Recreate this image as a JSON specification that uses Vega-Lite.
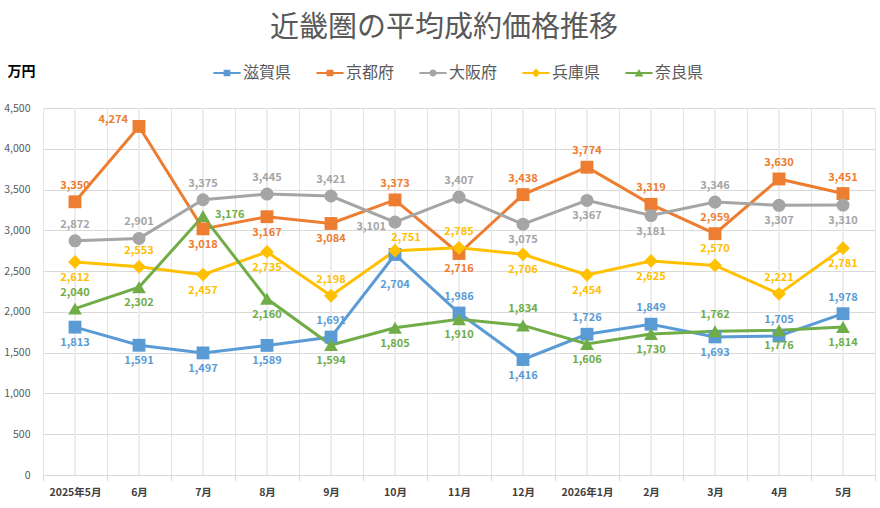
{
  "$schema": "https://vega.github.io/schema/vega-lite/v6.json",
  "width": 832,
  "height": 367,
  "autosize": "none",
  "padding": {"left": 43, "top": 108, "right": 5, "bottom": 33},
  "background": "white",
  "title": {
    "text": "近畿圏の平均成約価格推移",
    "fontSize": 29,
    "fontWeight": "normal",
    "color": "#595959",
    "font": "Noto Sans CJK JP",
    "anchor": "middle",
    "frame": "group",
    "dx": -15,
    "offset": 21
  },
  "data": {
    "values": [
      {"月": "2025年5月", "県": "滋賀県", "価格": 1813},
      {"月": "6月", "県": "滋賀県", "価格": 1591},
      {"月": "7月", "県": "滋賀県", "価格": 1497},
      {"月": "8月", "県": "滋賀県", "価格": 1589},
      {"月": "9月", "県": "滋賀県", "価格": 1691},
      {"月": "10月", "県": "滋賀県", "価格": 2704},
      {"月": "11月", "県": "滋賀県", "価格": 1986},
      {"月": "12月", "県": "滋賀県", "価格": 1416},
      {"月": "2026年1月", "県": "滋賀県", "価格": 1726},
      {"月": "2月", "県": "滋賀県", "価格": 1849},
      {"月": "3月", "県": "滋賀県", "価格": 1693},
      {"月": "4月", "県": "滋賀県", "価格": 1705},
      {"月": "5月", "県": "滋賀県", "価格": 1978},
      {"月": "2025年5月", "県": "京都府", "価格": 3350},
      {"月": "6月", "県": "京都府", "価格": 4274},
      {"月": "7月", "県": "京都府", "価格": 3018},
      {"月": "8月", "県": "京都府", "価格": 3167},
      {"月": "9月", "県": "京都府", "価格": 3084},
      {"月": "10月", "県": "京都府", "価格": 3373},
      {"月": "11月", "県": "京都府", "価格": 2716},
      {"月": "12月", "県": "京都府", "価格": 3438},
      {"月": "2026年1月", "県": "京都府", "価格": 3774},
      {"月": "2月", "県": "京都府", "価格": 3319},
      {"月": "3月", "県": "京都府", "価格": 2959},
      {"月": "4月", "県": "京都府", "価格": 3630},
      {"月": "5月", "県": "京都府", "価格": 3451},
      {"月": "2025年5月", "県": "大阪府", "価格": 2872},
      {"月": "6月", "県": "大阪府", "価格": 2901},
      {"月": "7月", "県": "大阪府", "価格": 3375},
      {"月": "8月", "県": "大阪府", "価格": 3445},
      {"月": "9月", "県": "大阪府", "価格": 3421},
      {"月": "10月", "県": "大阪府", "価格": 3101},
      {"月": "11月", "県": "大阪府", "価格": 3407},
      {"月": "12月", "県": "大阪府", "価格": 3075},
      {"月": "2026年1月", "県": "大阪府", "価格": 3367},
      {"月": "2月", "県": "大阪府", "価格": 3181},
      {"月": "3月", "県": "大阪府", "価格": 3346},
      {"月": "4月", "県": "大阪府", "価格": 3307},
      {"月": "5月", "県": "大阪府", "価格": 3310},
      {"月": "2025年5月", "県": "兵庫県", "価格": 2612},
      {"月": "6月", "県": "兵庫県", "価格": 2553},
      {"月": "7月", "県": "兵庫県", "価格": 2457},
      {"月": "8月", "県": "兵庫県", "価格": 2735},
      {"月": "9月", "県": "兵庫県", "価格": 2198},
      {"月": "10月", "県": "兵庫県", "価格": 2751},
      {"月": "11月", "県": "兵庫県", "価格": 2785},
      {"月": "12月", "県": "兵庫県", "価格": 2706},
      {"月": "2026年1月", "県": "兵庫県", "価格": 2454},
      {"月": "2月", "県": "兵庫県", "価格": 2625},
      {"月": "3月", "県": "兵庫県", "価格": 2570},
      {"月": "4月", "県": "兵庫県", "価格": 2221},
      {"月": "5月", "県": "兵庫県", "価格": 2781},
      {"月": "2025年5月", "県": "奈良県", "価格": 2040},
      {"月": "6月", "県": "奈良県", "価格": 2302},
      {"月": "7月", "県": "奈良県", "価格": 3176},
      {"月": "8月", "県": "奈良県", "価格": 2160},
      {"月": "9月", "県": "奈良県", "価格": 1594},
      {"月": "10月", "県": "奈良県", "価格": 1805},
      {"月": "11月", "県": "奈良県", "価格": 1910},
      {"月": "12月", "県": "奈良県", "価格": 1834},
      {"月": "2026年1月", "県": "奈良県", "価格": 1606},
      {"月": "2月", "県": "奈良県", "価格": 1730},
      {"月": "3月", "県": "奈良県", "価格": 1762},
      {"月": "4月", "県": "奈良県", "価格": 1776},
      {"月": "5月", "県": "奈良県", "価格": 1814}
    ]
  },
  "transform": [
    {"calculate": "datum['県'] + '|' + datum['月']", "as": "key"}
  ],
  "encoding": {
    "x": {
      "field": "月",
      "type": "nominal",
      "sort": ["2025年5月", "6月", "7月", "8月", "9月", "10月", "11月", "12月", "2026年1月", "2月", "3月", "4月", "5月"],
      "scale": {"paddingInner": 0, "paddingOuter": 0},
      "axis": {
        "title": null,
        "labelAngle": 0,
        "tickBand": "extent",
        "grid": true,
        "gridColor": "#E6E6E6",
        "domainColor": "#D9D9D9",
        "tickColor": "#D9D9D9",
        "tickSize": 6,
        "labelFont": "Noto Sans CJK JP",
        "labelFontSize": 10.5,
        "labelFontWeight": "bold",
        "labelColor": "#404040",
        "labelPadding": 6
      }
    }
  },
  "layer": [
    {
      "transform": [{"filter": "false"}],
      "mark": {"type": "point", "filled": true, "opacity": 1},
      "encoding": {
        "y": {"field": "価格", "type": "quantitative"},
        "color": {
          "field": "県",
          "type": "nominal",
          "scale": {
            "domain": ["滋賀県", "京都府", "大阪府", "兵庫県", "奈良県"],
            "range": ["#5B9BD5", "#ED7D31", "#A5A5A5", "#FFC000", "#70AD47"]
          },
          "legend": {
            "title": null,
            "orient": "none",
            "direction": "horizontal",
            "columns": 5,
            "legendX": 176,
            "legendY": -43,
            "symbolSize": 256,
            "labelOffset": 8,
            "columnPadding": 24,
            "labelFont": "Noto Sans CJK JP",
            "labelFontSize": 16,
            "labelColor": "#595959",
            "symbolStrokeWidth": 0
          }
        },
        "shape": {
          "field": "県",
          "type": "nominal",
          "scale": {
            "domain": ["滋賀県", "京都府", "大阪府", "兵庫県", "奈良県"],
            "range": [
              "M-1.7,-0.14H1.7V0.14H-1.7Z M-0.42,-0.42H0.42V0.42H-0.42Z",
              "M-1.7,-0.14H1.7V0.14H-1.7Z M-0.42,-0.42H0.42V0.42H-0.42Z",
              "M-1.7,-0.14H1.7V0.14H-1.7Z M0.45,0A0.45,0.45,0,1,1,-0.45,0A0.45,0.45,0,1,1,0.45,0Z",
              "M-1.7,-0.14H1.7V0.14H-1.7Z M0,-0.55L0.55,0L0,0.55L-0.55,0Z",
              "M-1.7,-0.14H1.7V0.14H-1.7Z M0,-0.5L0.55,0.45L-0.55,0.45Z"
            ]
          }
        }
      }
    },
    {
      "mark": {"type": "rule", "color": "#ECECEC", "strokeWidth": 1},
      "encoding": {}
    },
    {
      "mark": {"type": "line", "strokeWidth": 3},
      "encoding": {
        "y": {
          "field": "価格",
          "type": "quantitative",
          "scale": {"domain": [0, 4500], "nice": false},
          "axis": {
            "values": [0, 500, 1000, 1500, 2000, 2500, 3000, 3500, 4000, 4500],
            "format": ",d",
            "title": "万円",
            "titleAngle": 0,
            "titleAlign": "left",
            "titleBaseline": "middle",
            "titleX": -36,
            "titleY": -37,
            "titleFont": "Noto Sans CJK JP",
            "titleFontSize": 14,
            "titleFontWeight": "bold",
            "titleColor": "#000000",
            "domain": false,
            "ticks": false,
            "gridColor": "#D9D9D9",
            "labelFont": "Noto Sans CJK JP",
            "labelFontSize": 10.5,
            "labelColor": "#595959",
            "labelPadding": 13
          }
        },
        "color": {"field": "県", "type": "nominal"}
      }
    },
    {
      "transform": [{"filter": {"field": "県", "oneOf": ["滋賀県", "京都府"]}}],
      "mark": {"type": "point", "shape": "square", "filled": true, "opacity": 1, "size": 165},
      "encoding": {
        "y": {"field": "価格", "type": "quantitative"},
        "color": {"field": "県", "type": "nominal"}
      }
    },
    {
      "transform": [{"filter": {"field": "県", "equal": "大阪府"}}],
      "mark": {"type": "point", "shape": "circle", "filled": true, "opacity": 1, "size": 170},
      "encoding": {
        "y": {"field": "価格", "type": "quantitative"},
        "color": {"field": "県", "type": "nominal"}
      }
    },
    {
      "transform": [{"filter": {"field": "県", "equal": "兵庫県"}}],
      "mark": {"type": "point", "shape": "diamond", "filled": true, "opacity": 1, "size": 190},
      "encoding": {
        "y": {"field": "価格", "type": "quantitative"},
        "color": {"field": "県", "type": "nominal"}
      }
    },
    {
      "transform": [{"filter": {"field": "県", "equal": "奈良県"}}],
      "mark": {"type": "point", "shape": "triangle-up", "filled": true, "opacity": 1, "size": 190},
      "encoding": {
        "y": {"field": "価格", "type": "quantitative"},
        "color": {"field": "県", "type": "nominal"}
      }
    },
    {
      "transform": [
        {"filter": {"not": {"field": "key", "oneOf": [
          "滋賀県|2025年5月", "滋賀県|6月", "滋賀県|7月", "滋賀県|8月", "滋賀県|10月", "滋賀県|12月", "滋賀県|3月",
          "京都府|7月", "京都府|8月", "京都府|9月", "京都府|11月",
          "大阪府|12月", "大阪府|2026年1月", "大阪府|2月", "大阪府|4月", "大阪府|5月",
          "兵庫県|2025年5月", "兵庫県|7月", "兵庫県|8月", "兵庫県|12月", "兵庫県|2026年1月", "兵庫県|2月", "兵庫県|5月",
          "奈良県|6月", "奈良県|8月", "奈良県|9月", "奈良県|10月", "奈良県|11月", "奈良県|2026年1月", "奈良県|2月", "奈良県|4月", "奈良県|5月",
          "京都府|6月", "大阪府|10月", "奈良県|7月", "兵庫県|10月"
        ]}}}
      ],
      "mark": {"type": "text", "dy": -16, "font": "Noto Sans CJK JP", "fontSize": 11, "fontWeight": 600},
      "encoding": {
        "y": {"field": "価格", "type": "quantitative"},
        "text": {"field": "価格", "type": "quantitative", "format": ",d"},
        "color": {"field": "県", "type": "nominal"}
      }
    },
    {
      "transform": [
        {"filter": {"field": "key", "oneOf": [
          "滋賀県|2025年5月", "滋賀県|6月", "滋賀県|7月", "滋賀県|8月", "滋賀県|12月", "滋賀県|3月",
          "京都府|7月", "京都府|8月", "京都府|9月", "京都府|11月",
          "大阪府|12月", "大阪府|2026年1月", "大阪府|2月", "大阪府|4月", "大阪府|5月",
          "兵庫県|2025年5月", "兵庫県|7月", "兵庫県|8月", "兵庫県|12月", "兵庫県|2026年1月", "兵庫県|2月", "兵庫県|5月",
          "奈良県|6月", "奈良県|8月", "奈良県|9月", "奈良県|10月", "奈良県|11月", "奈良県|2026年1月", "奈良県|2月", "奈良県|4月", "奈良県|5月"
        ]}}
      ],
      "mark": {"type": "text", "dy": 16, "font": "Noto Sans CJK JP", "fontSize": 11, "fontWeight": 600},
      "encoding": {
        "y": {"field": "価格", "type": "quantitative"},
        "text": {"field": "価格", "type": "quantitative", "format": ",d"},
        "color": {"field": "県", "type": "nominal"}
      }
    },
    {
      "transform": [{"filter": {"field": "key", "equal": "滋賀県|10月"}}],
      "mark": {"type": "text", "dy": 31, "font": "Noto Sans CJK JP", "fontSize": 11, "fontWeight": 600},
      "encoding": {
        "y": {"field": "価格", "type": "quantitative"},
        "text": {"field": "価格", "type": "quantitative", "format": ",d"},
        "color": {"field": "県", "type": "nominal"}
      }
    },
    {
      "transform": [{"filter": {"field": "key", "equal": "兵庫県|10月"}}],
      "mark": {"type": "text", "dx": 11, "dy": -13, "font": "Noto Sans CJK JP", "fontSize": 11, "fontWeight": 600},
      "encoding": {
        "y": {"field": "価格", "type": "quantitative"},
        "text": {"field": "価格", "type": "quantitative", "format": ",d"},
        "color": {"field": "県", "type": "nominal"}
      }
    },
    {
      "transform": [{"filter": {"field": "key", "equal": "京都府|6月"}}],
      "mark": {"type": "text", "align": "right", "dx": -11, "dy": -6, "font": "Noto Sans CJK JP", "fontSize": 11, "fontWeight": 600},
      "encoding": {
        "y": {"field": "価格", "type": "quantitative"},
        "text": {"field": "価格", "type": "quantitative", "format": ",d"},
        "color": {"field": "県", "type": "nominal"}
      }
    },
    {
      "transform": [{"filter": {"field": "key", "equal": "大阪府|10月"}}],
      "mark": {"type": "text", "align": "right", "dx": -9, "dy": 5, "font": "Noto Sans CJK JP", "fontSize": 11, "fontWeight": 600},
      "encoding": {
        "y": {"field": "価格", "type": "quantitative"},
        "text": {"field": "価格", "type": "quantitative", "format": ",d"},
        "color": {"field": "県", "type": "nominal"}
      }
    },
    {
      "transform": [{"filter": {"field": "key", "equal": "奈良県|7月"}}],
      "mark": {"type": "text", "align": "left", "dx": 12, "dy": -1, "font": "Noto Sans CJK JP", "fontSize": 11, "fontWeight": 600},
      "encoding": {
        "y": {"field": "価格", "type": "quantitative"},
        "text": {"field": "価格", "type": "quantitative", "format": ",d"},
        "color": {"field": "県", "type": "nominal"}
      }
    }
  ],
  "config": {
    "view": {"stroke": null},
    "font": "Noto Sans CJK JP"
  }
}
